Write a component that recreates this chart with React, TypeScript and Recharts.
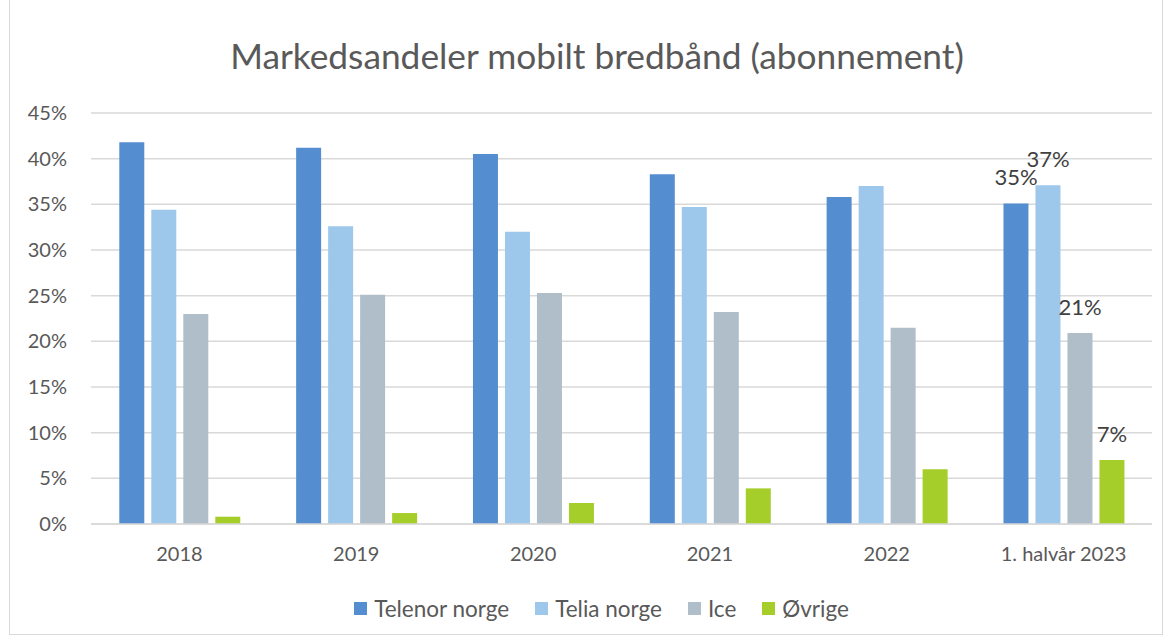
import { BarChart, Bar, XAxis, YAxis, CartesianGrid, Legend, LabelList } from 'recharts';

const categories = ['2018', '2019', '2020', '2021', '2022', '1. halvår 2023'];
const telenor = [41.8, 41.2, 40.5, 38.3, 35.8, 35.1];
const telia = [34.4, 32.6, 32.0, 34.7, 37.0, 37.1];
const ice = [23.0, 25.1, 25.3, 23.2, 21.5, 20.9];
const ovrige = [0.8, 1.2, 2.3, 3.9, 6.0, 7.0];
const yTicks = [0, 5, 10, 15, 20, 25, 30, 35, 40, 45];

const seriesKeys = ['telenor', 'telia', 'ice', 'ovrige'];
const seriesNames = ['Telenor norge', 'Telia norge', 'Ice', 'Øvrige'];
const seriesColors = ['#558ed0', '#9dc8eb', '#afbec8', '#a6ce2b'];

const data = categories.map((c, i) => ({
  name: c,
  telenor: telenor[i],
  telia: telia[i],
  ice: ice[i],
  ovrige: ovrige[i],
}));

const FONT = 'Lato, "Open Sans", sans-serif';
const TEXT = '#595959';

// Excel viser kun etiketter på siste kategori
const lastLabel = (props: any) => {
  const { x, y, width, value, index } = props;
  if (index !== data.length - 1) return null;
  return (
    <text
      x={Number(x) + Number(width) / 2}
      y={Number(y) - 18}
      textAnchor="middle"
      fill="#404040"
      fontSize={22}
      fontFamily={FONT}
    >
      {`${Math.round(Number(value))}%`}
    </text>
  );
};

const renderLegend = () => (
  <div
    style={{
      display: 'flex',
      justifyContent: 'center',
      paddingTop: 21,
      paddingLeft: 67,
      fontFamily: FONT,
      fontSize: 22.5,
      color: TEXT,
    }}
  >
    {seriesNames.map((n, i) => (
      <div key={n} style={{ display: 'flex', alignItems: 'center', marginRight: 26 }}>
        <span style={{ width: 13, height: 13, background: seriesColors[i], marginRight: 7, display: 'inline-block' }} />
        <span>{n}</span>
      </div>
    ))}
  </div>
);

export default function App() {
  return (
    <div style={{ position: 'absolute', left: 0, top: 0, width: 1170, height: 637, background: '#fff' }}>
      <div
        style={{
          position: 'absolute',
          left: 9,
          top: -1,
          width: 1154,
          height: 636,
          border: '1px solid #d9d9d9',
          boxSizing: 'border-box',
        }}
      />
      <div
        style={{
          position: 'absolute',
          left: 0,
          top: 34,
          width: 1194,
          textAlign: 'center',
          fontFamily: FONT,
          fontSize: 35.3,
          color: TEXT,
        }}
      >
        Markedsandeler mobilt bredbånd (abonnement)
      </div>
      <BarChart
        width={1170}
        height={637}
        data={data}
        margin={{ top: 113, right: 18, left: 10, bottom: 20 }}
        barCategoryGap="16%"
        barGap={7}
        style={{ position: 'absolute', left: 0, top: 0 }}
      >
        <CartesianGrid vertical={false} stroke="#d9d9d9" strokeWidth={1.5} />
        <XAxis
          dataKey="name"
          axisLine={{ stroke: '#d9d9d9', strokeWidth: 1.5 }}
          tickLine={false}
          tick={{ fill: TEXT, fontSize: 20, fontFamily: FONT }}
          tickMargin={17}
          height={50}
        />
        <YAxis
          domain={[0, 45]}
          ticks={yTicks}
          interval={0}
          axisLine={false}
          tickLine={false}
          tick={{ fill: TEXT, fontSize: 20, fontFamily: FONT }}
          tickFormatter={(v) => `${v}%`}
          width={81}
          tickMargin={18}
        />
        <Legend verticalAlign="bottom" height={43} content={renderLegend} />
        {seriesKeys.map((k, i) => (
          <Bar key={k} dataKey={k} name={seriesNames[i]} fill={seriesColors[i]} isAnimationActive={false}>
            <LabelList dataKey={k} content={lastLabel} />
          </Bar>
        ))}
      </BarChart>
    </div>
  );
}
